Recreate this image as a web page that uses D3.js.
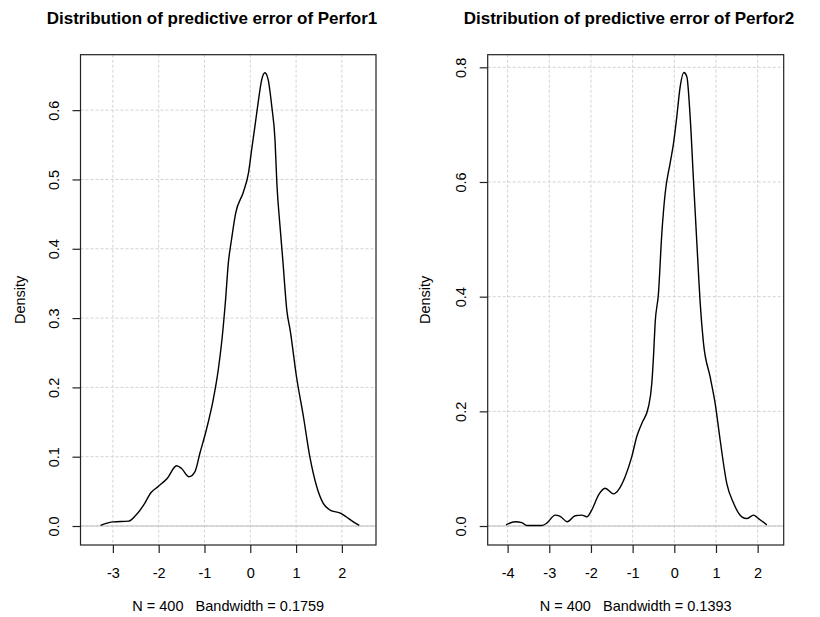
<!DOCTYPE html>
<html><head><meta charset="utf-8">
<script src="https://cdn.jsdelivr.net/npm/d3@7"></script>
<style>
body{margin:0;background:#fff}
svg{display:block}
text{font-family:"Liberation Sans",Arial,sans-serif;fill:#000}
</style>
</head><body>
<svg id="chart" width="820" height="617"></svg>
<script>
// ---- data ----
const titles = ["Distribution of predictive error of Perfor1", "Distribution of predictive error of Perfor2"];
const subtitles = ["N = 400   Bandwidth = 0.1759", "N = 400   Bandwidth = 0.1393"];
const yLabel = "Density";
const xTicks1 = [-3, -2, -1, 0, 1, 2];
const yTicks1 = [0, 0.1, 0.2, 0.3, 0.4, 0.5, 0.6];
const xTicks2 = [-4, -3, -2, -1, 0, 1, 2];
const yTicks2 = [0, 0.2, 0.4, 0.6, 0.8];
const xDomain1 = [-3.707, 2.745], yDomain1 = [-0.0274, 0.680];
const xDomain2 = [-4.478, 2.625], yDomain2 = [-0.0331, 0.822];

const err1  = [-3.27,-2.99,-2.66,-2.52,-2.33,-2.17,-2.01,-1.81,-1.61,-1.50,-1.34,-1.21,-1.10,-0.97,-0.81,-0.70,-0.62,-0.54,-0.48,-0.41,-0.32,-0.15,-0.04,0.03,0.10,0.17,0.25,0.32,0.39,0.47,0.54,0.58,0.65,0.71,0.80,0.87,1.01,1.16,1.30,1.45,1.59,1.74,1.99,2.10,2.25,2.38];
const dens1 = [0.001,0.006,0.007,0.014,0.030,0.048,0.057,0.069,0.087,0.083,0.071,0.078,0.105,0.136,0.182,0.225,0.268,0.326,0.379,0.413,0.451,0.482,0.509,0.543,0.576,0.610,0.644,0.654,0.644,0.605,0.557,0.495,0.432,0.384,0.310,0.283,0.215,0.158,0.100,0.057,0.033,0.023,0.018,0.013,0.006,0.001];

const err2  = [-4.04,-3.82,-3.66,-3.54,-3.18,-3.06,-2.86,-2.74,-2.57,-2.38,-2.22,-2.10,-1.98,-1.82,-1.66,-1.46,-1.34,-1.18,-1.02,-0.90,-0.78,-0.62,-0.54,-0.50,-0.46,-0.38,-0.30,-0.22,-0.10,-0.02,0.06,0.14,0.23,0.30,0.38,0.46,0.52,0.58,0.62,0.70,0.86,0.98,1.10,1.26,1.42,1.62,1.74,1.90,2.02,2.22];
const dens2 = [0.002,0.0075,0.006,0.001,0.001,0.005,0.019,0.017,0.0075,0.018,0.019,0.016,0.028,0.054,0.066,0.056,0.063,0.086,0.121,0.156,0.179,0.208,0.249,0.295,0.354,0.406,0.510,0.580,0.633,0.667,0.714,0.766,0.791,0.784,0.714,0.603,0.522,0.441,0.390,0.319,0.260,0.214,0.150,0.074,0.040,0.016,0.013,0.019,0.013,0.002];

// ---- layout ----
const panels = [
  {title: titles[0], sub: subtitles[0], xs: err1, ys: dens1, xTicks: xTicks1, yTicks: yTicks1,
   xDom: xDomain1, yDom: yDomain1, left: 80.5, right: 376, top: 54.7, bottom: 545, yLab: 20, titleX: 212},
  {title: titles[1], sub: subtitles[1], xs: err2, ys: dens2, xTicks: xTicks2, yTicks: yTicks2,
   xDom: xDomain2, yDom: yDomain2, left: 487.7, right: 783.7, top: 54.7, bottom: 545, yLab: 425, titleX: 629}
];

const svg = d3.select("#chart");
svg.append("rect").attr("width", 820).attr("height", 617).attr("fill", "#fff");

panels.forEach(p => {
  const x = d3.scaleLinear().domain(p.xDom).range([p.left, p.right]);
  const y = d3.scaleLinear().domain(p.yDom).range([p.bottom, p.top]);
  const g = svg.append("g");

  // grid (dotted lightgray)
  g.selectAll(".vg").data(p.xTicks).join("line")
    .attr("x1", d => x(d)).attr("x2", d => x(d))
    .attr("y1", p.top).attr("y2", p.bottom)
    .attr("stroke", "#d3d3d3").attr("stroke-width", 1).attr("stroke-dasharray", "3,2");
  g.selectAll(".hg").data(p.yTicks).join("line")
    .attr("x1", p.left).attr("x2", p.right)
    .attr("y1", d => y(d)).attr("y2", d => y(d))
    .attr("stroke", "#d3d3d3").attr("stroke-width", 1).attr("stroke-dasharray", "3,2");

  // zero line
  g.append("line").attr("x1", p.left).attr("x2", p.right)
    .attr("y1", y(0)).attr("y2", y(0)).attr("stroke", "#bebebe").attr("stroke-width", 1);

  // density curve
  const line = d3.line().x((d, i) => x(p.xs[i])).y(d => y(d)).curve(d3.curveMonotoneX);
  g.append("path").attr("d", line(p.ys)).attr("fill", "none")
    .attr("stroke", "#000").attr("stroke-width", 1.4).attr("stroke-linejoin", "round");

  // box
  g.append("rect").attr("x", p.left).attr("y", p.top)
    .attr("width", p.right - p.left).attr("height", p.bottom - p.top)
    .attr("fill", "none").attr("stroke", "#222").attr("stroke-width", 1.2);

  // x axis
  const xa = g.append("g").attr("transform", `translate(0,${p.bottom})`)
    .call(d3.axisBottom(x).tickValues(p.xTicks).tickFormat(d => String(d)).tickSize(8).tickSizeOuter(0));
  xa.select(".domain").remove();
  xa.selectAll(".tick line").attr("stroke", "#222").attr("stroke-width", 1.2);
  xa.selectAll(".tick text").attr("y", 23).attr("dy", "0.71em")
    .style("font-size", "14.5px").attr("fill", "#000");

  // y axis
  const ya = g.append("g").attr("transform", `translate(${p.left},0)`)
    .call(d3.axisLeft(y).tickValues(p.yTicks).tickFormat(d3.format(".1f")).tickSize(8).tickSizeOuter(0));
  ya.select(".domain").remove();
  ya.selectAll(".tick line").attr("stroke", "#222").attr("stroke-width", 1.2);
  ya.selectAll(".tick text").attr("x", 0).attr("y", -21.5).attr("dy", 0)
    .attr("transform", "rotate(-90)").attr("text-anchor", "middle")
    .style("font-size", "14.5px").attr("fill", "#000");

  // y label
  g.append("text").attr("transform", `translate(${p.yLab + 5},${(p.top + p.bottom) / 2}) rotate(-90)`)
    .attr("text-anchor", "middle").style("font-size", "14.5px").text(yLabel);

  // title
  g.append("text").attr("x", p.titleX).attr("y", 24)
    .attr("text-anchor", "middle").style("font-size", "17px").style("font-weight", "bold").text(p.title);

  // subtitle
  g.append("text").attr("x", (p.left + p.right) / 2).attr("y", 611)
    .attr("text-anchor", "middle").style("font-size", "14.5px").style("white-space", "pre")
    .attr("xml:space", "preserve").text(p.sub);
});
</script>
</body></html>
